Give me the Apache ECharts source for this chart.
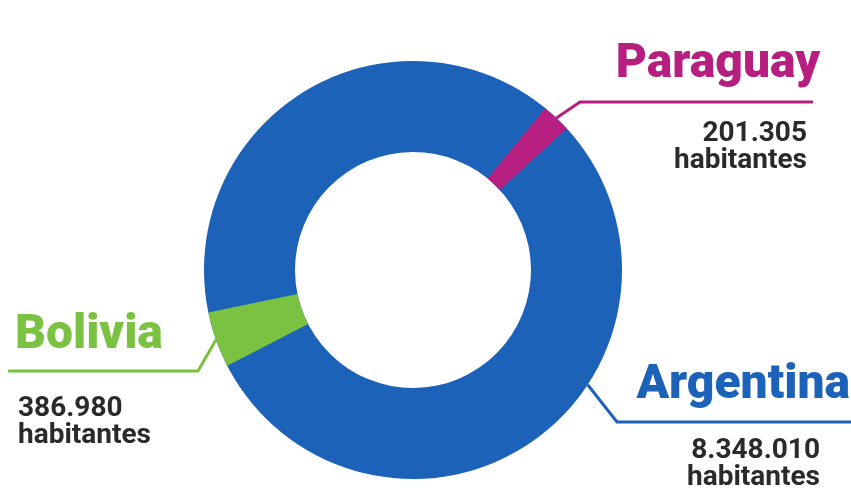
<!DOCTYPE html>
<html>
<head>
<meta charset="utf-8">
<script src="https://cdn.jsdelivr.net/npm/echarts@6/dist/echarts.min.js"></script>
<style>
  html, body { margin: 0; padding: 0; background: #ffffff; }
  #chart { width: 851px; height: 493px; }
</style>
</head>
<body>
<div id="chart"></div>
<script>
// Population by country
const countries = ['Argentina', 'Paraguay', 'Bolivia'];
const inhabitants = [8348010, 201305, 386980];
const unitLabel = 'habitantes';

// ---- layout & styling ----
const CENTER = [413, 270];
const R_IN = 118, R_OUT = 209;
const palette = { Argentina: '#1b62b8', Paraguay: '#b61f80', Bolivia: '#7bc242' };
// angle (degrees, clockwise from 12 o'clock) where each slice sits / its leader line leaves the ring
const anchorAngle = { Argentina: 123.3, Paraguay: 43.3, Bolivia: 250.5 };
const labelSpec = {
  Paraguay:  { x: 820, y: 40,  align: 'right', elbow: [580, 102], end: [813, 102], gap: 30, pad: [0, 13, 0, 0] },
  Bolivia:   { x: 15,  y: 311, align: 'left',  elbow: [198, 371], end: [8, 371],   gap: 34, pad: [0, 0, 0, 3] },
  Argentina: { x: 850, y: 361, align: 'right', elbow: [617, 422], end: [851, 422], gap: 26, pad: [0, 30, 0, 0] }
};

const total = inhabitants.reduce((a, b) => a + b, 0);
const fmt = v => String(v).replace(/\B(?=(\d{3})+(?!\d))/g, '.');

function ringPoint(angleDeg, r) {
  const a = angleDeg * Math.PI / 180;
  return [CENTER[0] + r * Math.sin(a), CENTER[1] - r * Math.cos(a)];
}

function labelFor(name) {
  const s = labelSpec[name];
  const numStyle = {
    fontFamily: 'Roboto', fontSize: 28, fontWeight: 'bold', color: '#2a2a2a',
    lineHeight: 27, align: s.align, padding: s.pad
  };
  return {
    show: true,
    position: 'outside',
    formatter: p => `{t|${p.name}}\n{g| }\n{n|${fmt(p.value)}}\n{u|${unitLabel}}`,
    rich: {
      t: { fontFamily: 'Roboto', fontSize: 48, fontWeight: 900, color: palette[name], lineHeight: 50, align: s.align },
      g: { fontSize: 8, lineHeight: s.gap, align: s.align },
      n: numStyle,
      u: numStyle
    }
  };
}

const labelLine = name => ({
  show: true,
  smooth: false,
  lineStyle: { color: palette[name], width: 3 }
});

const series = countries.map((name, i) => {
  const value = inhabitants[i];
  const base = {
    type: 'pie',
    center: CENTER,
    radius: [R_IN, R_OUT],
    clockwise: true,
    avoidLabelOverlap: false,
    emphasis: { disabled: true },
    animation: false,
    labelLayout: () => {
      const s = labelSpec[name];
      return {
        x: s.x, y: s.y, align: s.align, verticalAlign: 'top',
        labelLinePoints: [ringPoint(anchorAngle[name], R_OUT), s.elbow, s.end]
      };
    }
  };
  if (i === 0) {
    // the dominant country forms the full ring underneath
    return Object.assign(base, {
      startAngle: 90 - (anchorAngle[name] - 180),
      data: [{
        name, value,
        itemStyle: { color: palette[name] },
        label: labelFor(name),
        labelLine: labelLine(name)
      }]
    });
  }
  // smaller countries: a slice sized by their share, laid over the ring
  const share = value / total;
  return Object.assign(base, {
    startAngle: 90 - (anchorAngle[name] - share * 180),
    data: [
      {
        name, value,
        itemStyle: { color: palette[name] },
        label: labelFor(name),
        labelLine: labelLine(name)
      },
      {
        name: '', value: total - value,
        itemStyle: { color: 'rgba(0,0,0,0)' },
        label: { show: false },
        labelLine: { show: false },
        tooltip: { show: false }
      }
    ]
  });
});

const chart = echarts.init(document.getElementById('chart'), null, { renderer: 'canvas' });
chart.setOption({
  backgroundColor: '#ffffff',
  animation: false,
  series
});
</script>
</body>
</html>
